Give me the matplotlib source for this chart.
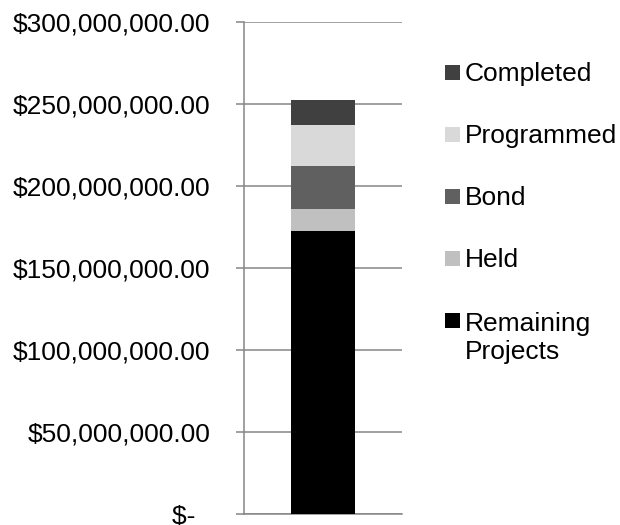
import matplotlib
matplotlib.use("Agg")
import matplotlib.pyplot as plt
from matplotlib.patches import Rectangle

plt.rcParams['font.family'] = ['Liberation Sans', 'DejaVu Sans']

series = ["Remaining\nProjects", "Held", "Bond", "Programmed", "Completed"]
values = [172.5e6, 13.5e6, 26.0e6, 25.0e6, 15.5e6]
colors = ["#000000", "#c0c0c0", "#606060", "#d9d9d9", "#404040"]
yticks = [0, 50e6, 100e6, 150e6, 200e6, 250e6, 300e6]
ytick_labels = ["$-  ", "$50,000,000.00", "$100,000,000.00", "$150,000,000.00",
                "$200,000,000.00", "$250,000,000.00", "$300,000,000.00"]

W, H = 620, 525
fig = plt.figure(figsize=(W / 100, H / 100), dpi=100)
ax = fig.add_axes([244 / W, 1 - 514 / H, (402 - 244) / W, (514 - 22) / H])

grid_c = "#868686"
bottom = 0
for v, c in zip(values, colors):
    ax.bar([0], [v], bottom=bottom, width=0.405, color=c, zorder=3)
    bottom += v

ax.set_xlim(-0.5, 0.5)
ax.set_ylim(0, 300e6)
ax.set_yticks(yticks)
ax.set_yticklabels(ytick_labels, fontsize=19)
ax.set_xticks([])
ax.yaxis.grid(True, color=grid_c, linewidth=1.1, zorder=0)
ax.tick_params(axis='y', length=5.8, width=1.1, color=grid_c, pad=18.5)
for s in ["top", "right"]:
    ax.spines[s].set_visible(False)
for s in ["left", "bottom"]:
    ax.spines[s].set_color(grid_c)
    ax.spines[s].set_linewidth(1.1)

# legend (reverse order, Completed on top)
for i, (lab, c) in enumerate(zip(series[::-1], colors[::-1])):
    yc = 72 + 62 * i
    nl = lab.count("\n")
    fig.patches.append(Rectangle((445 / W, 1 - (yc + 7.5) / H), 15 / W, 15 / H,
                                 transform=fig.transFigure, facecolor=c,
                                 edgecolor='none'))
    fig.text(465 / W, 1 - (yc + 9 + 30 * nl) / H, lab, fontsize=19, va='baseline',
             ha='left', linespacing=1.2)

fig.savefig("out.png", dpi=100)
